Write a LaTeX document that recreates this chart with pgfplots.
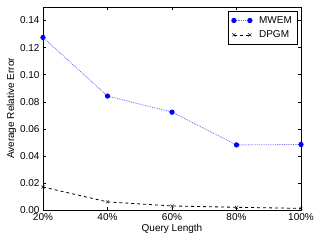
\documentclass[border=0pt]{standalone}
\usepackage{pgfplots}
\pgfplotsset{compat=1.18}
\usepackage{fontspec}
\setmainfont{Liberation Sans}
\begin{document}
\begin{tikzpicture}[x=1pt,y=1pt]
\useasboundingbox (-43,-32) rectangle (279,210);
\begin{axis}[
  at={(0,0)}, anchor=south west,
  scale only axis, width=258pt, height=203pt,
  xmin=20, xmax=100, ymin=0, ymax=0.15,
  xtick={20,40,60,80,100},
  xticklabels={20\%,40\%,60\%,80\%,100\%},
  ytick={0,0.02,0.04,0.06,0.08,0.10,0.12,0.14},
  yticklabel style={/pgf/number format/.cd,fixed,fixed zerofill,precision=2},
  /pgf/number format/assume math mode=true,
  tick align=inside, tick pos=both,
  major tick length=3pt,
  tick style={black, line width=0.4pt},
  axis line style={line width=0.6pt},
  font=\fontsize{10}{11}\selectfont,
  xlabel={Query Length}, ylabel={Average Relative Error},
  xlabel style={yshift=3pt},
  ylabel style={yshift=-3pt},
  legend style={draw=black, line width=0.5pt, font=\fontsize{10}{11}\selectfont,
    inner xsep=3pt, inner ysep=3pt, row sep=2pt, at={(0.985,0.98)}, anchor=north east},
  legend cell align=left,
  legend image code/.code={\draw[#1] plot coordinates {(0pt,0pt) (16pt,0pt)};},
]
\addplot[blue!60, densely dotted, line width=0.8pt, mark=*, mark size=2.2pt, mark options={solid, fill=blue, draw=blue}]
 coordinates {(20,0.1275) (40,0.0842) (60,0.0723) (80,0.0481) (100,0.0484)};
\addlegendentry{\hspace{5pt}MWEM}
\addplot[black, dashed, line width=0.8pt, mark=x, mark size=2.2pt, mark options={solid, line width=0.4pt}]
 coordinates {(20,0.0170) (40,0.0060) (60,0.0030) (80,0.0020) (100,0.0012)};
\addlegendentry{\hspace{5pt}DPGM}
\end{axis}
\end{tikzpicture}
\end{document}
